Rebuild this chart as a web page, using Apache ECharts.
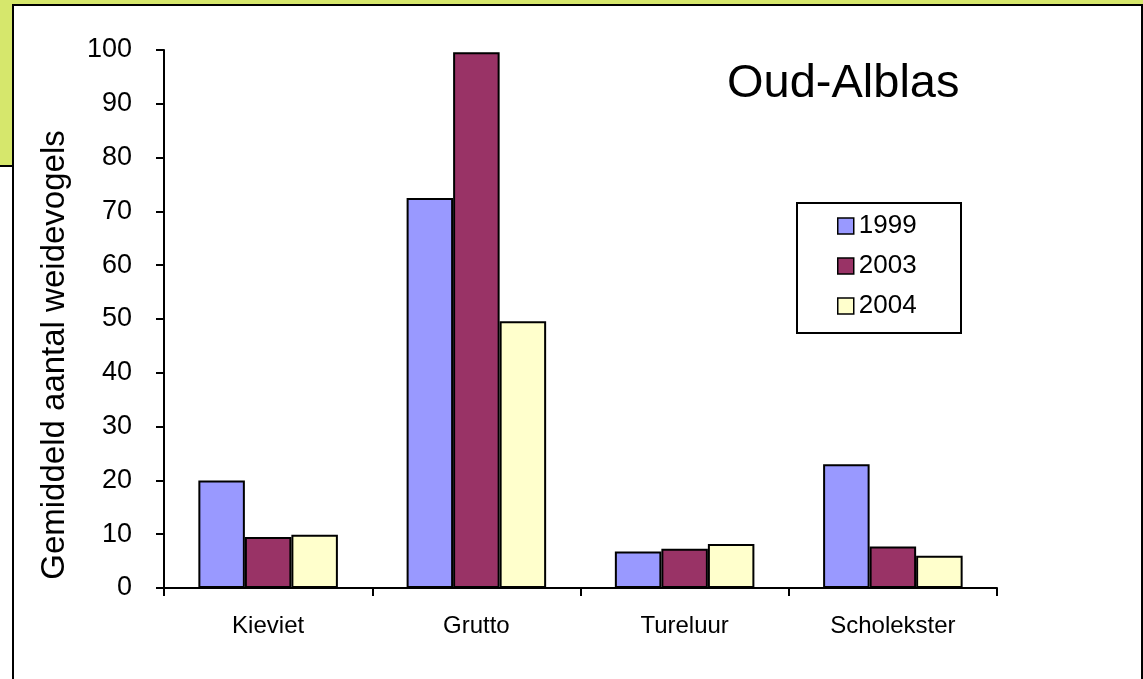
<!DOCTYPE html>
<html>
<head>
<meta charset="utf-8">
<script src="https://cdn.jsdelivr.net/npm/echarts@6/dist/echarts.min.js"></script>
<style>
  html, body { margin: 0; padding: 0; background: #fff; }
  .page { position: relative; width: 1143px; height: 679px; overflow: hidden; background: #fff; }
  .green-top { position: absolute; left: 0; top: 0; width: 1143px; height: 5px; background: #d6e76c; }
  .green-left { position: absolute; left: 0; top: 0; width: 13px; height: 165px; background: #d6e76c; }
  .left-line { position: absolute; left: 0; top: 165px; width: 13px; height: 2px; background: #000; }
  .frame { position: absolute; left: 12px; top: 4px; width: 1127px; height: 700px; border: 2px solid #000; border-bottom: none; background: #fff; }
  #chart { position: absolute; left: 0; top: 0; width: 1143px; height: 679px; }
</style>
</head>
<body>
<div class="page">
  <div class="green-top"></div>
  <div class="green-left"></div>
  <div class="left-line"></div>
  <div class="frame"></div>
  <div id="chart"></div>
</div>
<script>
// soorten (categorieën)
const species = ['Kieviet', 'Grutto', 'Tureluur', 'Scholekster']
// gemiddeld aantal per jaar
const years = ['1999', '2003', '2004']
const values1999 = [20, 72.5, 6.8, 23]
const values2003 = [9.5, 99.6, 7.3, 7.7]
const values2004 = [9.9, 49.6, 8.2, 6]

const colors = ['#9999ff', '#993366', '#ffffcc']
const font = 'Liberation Sans'

const chart = echarts.init(document.getElementById('chart'))

const makeSeries = (name, data, color) => ({
  name,
  type: 'bar',
  data,
  barGap: '0%',
  barCategoryGap: '33%',
  itemStyle: {
    color,
    borderColor: '#000',
    borderWidth: 2
  },
  emphasis: { disabled: true }
})

const option = {
  backgroundColor: 'transparent',
  animation: false,
  title: {
    text: 'Oud-Alblas',
    left: 722,
    top: 56,
    textStyle: {
      fontFamily: font,
      fontSize: 47,
      fontWeight: 'normal',
      color: '#000'
    }
  },
  legend: {
    data: years,
    orient: 'vertical',
    left: 832,
    top: 208,
    itemWidth: 16,
    itemHeight: 16,
    itemGap: 14,
    icon: 'rect',
    itemStyle: { borderColor: '#000', borderWidth: 1.5 },
    textStyle: {
      fontFamily: font,
      fontSize: 26,
      lineHeight: 26,
      color: '#000'
    }
  },
  grid: {
    left: 164,
    right: 146,
    top: 50,
    bottom: 91,
    containLabel: false
  },
  xAxis: {
    type: 'category',
    data: species,
    axisLine: { lineStyle: { color: '#000', width: 2 } },
    axisTick: { show: true, length: 8, lineStyle: { color: '#000', width: 2 } },
    axisLabel: {
      margin: 26,
      fontFamily: font,
      fontSize: 24,
      color: '#000'
    },
    splitLine: { show: false }
  },
  yAxis: {
    type: 'value',
    min: 0,
    max: 100,
    interval: 10,
    axisLine: { show: true, lineStyle: { color: '#000', width: 2 } },
    axisTick: { show: true, length: 8, lineStyle: { color: '#000', width: 2 } },
    axisLabel: {
      margin: 32,
      fontFamily: font,
      fontSize: 27,
      color: '#000'
    },
    splitLine: { show: false }
  },
  graphic: [
    {
      type: 'text',
      x: 55,
      y: 355,
      rotation: Math.PI / 2,
      style: {
        text: 'Gemiddeld aantal weidevogels',
        x: 0,
        y: 0,
        textAlign: 'center',
        textVerticalAlign: 'middle',
        font: '33px "Liberation Sans"',
        fill: '#000'
      }
    },
    {
      type: 'rect',
      shape: { x: 797, y: 203, width: 164, height: 130 },
      style: { fill: 'none', stroke: '#000', lineWidth: 2 },
      silent: true
    }
  ],
  series: [
    makeSeries(years[0], values1999, colors[0]),
    makeSeries(years[1], values2003, colors[1]),
    makeSeries(years[2], values2004, colors[2])
  ]
}

chart.setOption(option)
</script>
</body>
</html>
